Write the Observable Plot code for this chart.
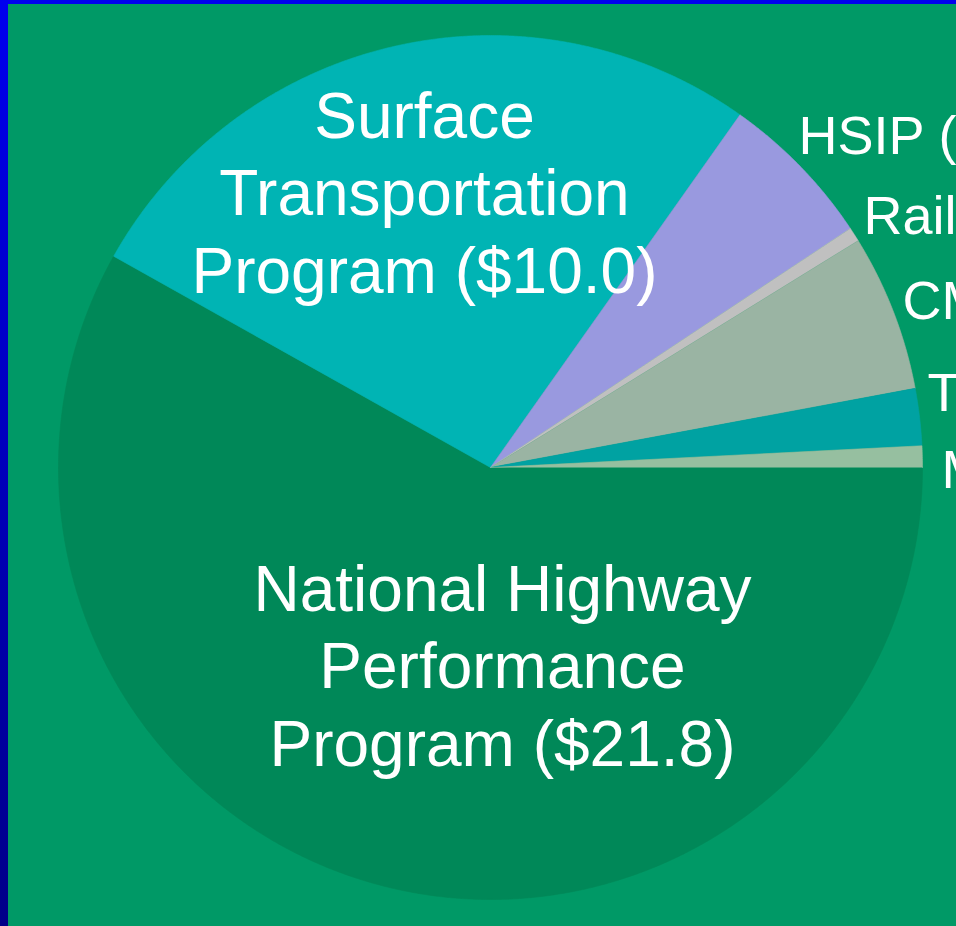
<!DOCTYPE html>
<html>
<head>
<meta charset="utf-8">
<script src="https://cdn.jsdelivr.net/npm/d3@7"></script>
<script src="https://cdn.jsdelivr.net/npm/@observablehq/plot@0.6"></script>
<style>
  html, body { margin: 0; padding: 0; overflow: hidden; background: #009966; }
  #wrap { position: relative; width: 956px; height: 926px; overflow: hidden; }
  #chart { position: absolute; left: 0; top: 0; }
  #edgeLeft { position: absolute; left: 0; top: 0; width: 8px; height: 926px;
              background: linear-gradient(#0000ee, #000088); z-index: 2; }
  #edgeTop { position: absolute; left: 0; top: 0; width: 956px; height: 4px;
             background: #0000ee; z-index: 2; }
</style>
</head>
<body>
<div id="wrap">
  <div id="chart"></div>
  <div id="edgeLeft"></div>
  <div id="edgeTop"></div>
</div>
<script>
// ---- data (billions of dollars) ----
const programs = [
  "National Highway Performance Program",
  "Surface Transportation Program",
  "HSIP",
  "Railway-Highway Crossings",
  "CMAQ",
  "TAP",
  "Metropolitan Planning"
];
const amounts = [21.8, 10.0, 2.2, 0.2, 2.2, 0.8, 0.3];
const labels = [
  "National Highway\nPerformance\nProgram ($21.8)",
  "Surface\nTransportation\nProgram ($10.0)",
  "HSIP ($2.2)",
  "Railway-Highway Crossings ($0.2)",
  "CMAQ ($2.2)",
  "TAP ($0.8)",
  "Metropolitan Planning ($0.3)"
];
const sliceColors = ["#008858", "#00b4b4", "#9999df", "#c0c0c0", "#9ab4a3", "#00a2a2", "#96bfa0"];

// ---- layout (pixel units, center of the pie at origin, y up) ----
const W = 956, H = 926;
const cx = 490, cy = 467, R = 432;
const labelLayout = [
  {x: 12, y: -298, big: true},
  {x: -66, y: 175, big: true},
  {x: 308, y: 314},
  {x: 373, y: 234},
  {x: 412, y: 149},
  {x: 437, y: 57},
  {x: 451, y: -20}
];

// ---- slices via d3.pie, starting at 3 o'clock, clockwise ----
const rows = programs.map((name, i) => ({name, value: amounts[i]}));
const arcs = d3.pie().sort(null).value(d => d.value)
  .startAngle(Math.PI / 2).endAngle(Math.PI / 2 + 2 * Math.PI)(rows);

const step = Math.PI / 720;
const slicePts = [];
for (const a of arcs) {
  const name = a.data.name;
  slicePts.push({name, x: 0, y: 0});
  const n = Math.max(2, Math.ceil((a.endAngle - a.startAngle) / step));
  for (let k = 0; k <= n; k++) {
    const t = a.startAngle + (a.endAngle - a.startAngle) * k / n;
    slicePts.push({name, x: R * Math.sin(t), y: R * Math.cos(t)});
  }
}

const labelRows = labels.map((text, i) => ({text, ...labelLayout[i]}));

const font = "'Liberation Sans', Arial, Helvetica, sans-serif";

const chart = Plot.plot({
  width: W,
  height: H,
  margin: 0,
  style: {background: "#009966", overflow: "hidden", fontFamily: font},
  x: {domain: [-cx, W - cx], axis: null},
  y: {domain: [-(H - cy), cy], axis: null},
  color: {domain: programs, range: sliceColors},
  marks: [
    Plot.line(slicePts, {
      x: "x", y: "y", z: "name",
      fill: "name", stroke: "name", strokeWidth: 0.6,
      curve: "linear"
    }),
    Plot.text(labelRows.filter(d => d.big), {
      x: "x", y: "y", text: "text",
      fill: "white", fontSize: 64, lineHeight: 1.21,
      textAnchor: "middle", lineAnchor: "bottom", fontFamily: font
    }),
    Plot.text(labelRows.filter(d => !d.big), {
      x: "x", y: "y", text: "text",
      fill: "white", fontSize: 54,
      textAnchor: "start", lineAnchor: "bottom", fontFamily: font
    })
  ]
});

document.getElementById("chart").appendChild(chart);
</script>
</body>
</html>
